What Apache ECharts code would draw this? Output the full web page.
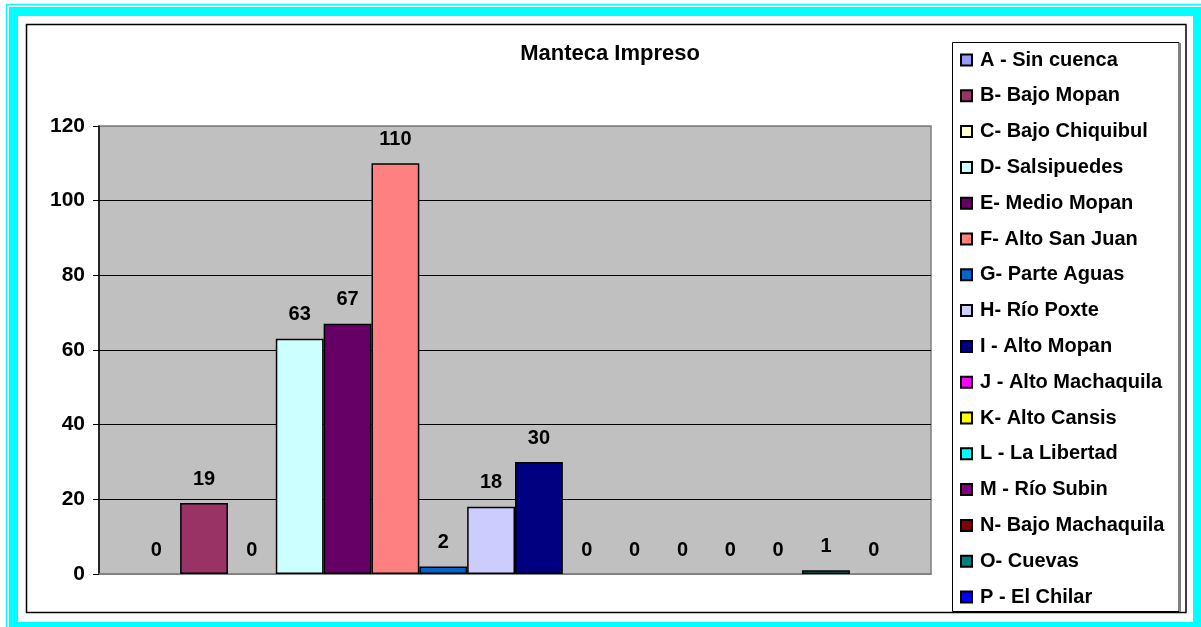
<!DOCTYPE html>
<html>
<head>
<meta charset="utf-8">
<script src="https://cdn.jsdelivr.net/npm/echarts@6/dist/echarts.min.js"></script>
<style>
  html, body { margin: 0; padding: 0; background: #fff; }
  #chart { width: 1201px; height: 627px; }
</style>
</head>
<body>
<div id="chart"></div>
<script>
// chart data
var titleText = "Manteca Impreso";
var categories = ["Manteca Impreso"];
var seriesNames = [
  "A - Sin cuenca", "B- Bajo Mopan", "C- Bajo Chiquibul", "D- Salsipuedes",
  "E- Medio Mopan", "F- Alto San Juan", "G- Parte Aguas", "H- Río Poxte",
  "I - Alto Mopan", "J - Alto Machaquila", "K- Alto Cansis", "L - La Libertad",
  "M - Río Subin", "N- Bajo Machaquila", "O- Cuevas", "P - El Chilar"
];
var seriesValues = [0, 19, 0, 63, 67, 110, 2, 18, 30, 0, 0, 0, 0, 0, 1, 0];
var seriesColors = [
  "#9999FF", "#993366", "#FFFFCC", "#CCFFFF", "#660066", "#FF8080", "#0066CC", "#CCCCFF",
  "#000080", "#FF00FF", "#FFFF00", "#00FFFF", "#800080", "#800000", "#008080", "#0000FF"
];
var yTicks = [0, 20, 40, 60, 80, 100, 120];

var font = "'Liberation Sans', Arial, sans-serif";

var chart = echarts.init(document.getElementById("chart"));

var series = seriesNames.map(function (name, i) {
  return {
    name: name,
    type: "bar",
    barGap: "0%",
    barCategoryGap: "8%",
    itemStyle: { color: seriesColors[i], borderColor: "#000", borderWidth: 1.5 },
    label: {
      show: true,
      position: "top",
      distance: 14,
      color: "#000",
      fontFamily: font,
      fontWeight: "bold",
      fontSize: 20
    },
    data: [{
      value: seriesValues[i],
      itemStyle: { borderWidth: seriesValues[i] === 0 ? 0 : 1.5 }
    }]
  };
});

chart.setOption({
  animation: false,
  backgroundColor: "#fff",
  title: {
    text: titleText,
    left: 610,
    top: 43,
    textAlign: "center",
    padding: 0,
    textStyle: { fontFamily: font, fontWeight: "bold", fontSize: 22, color: "#000" }
  },
  grid: {
    left: 99,
    top: 126,
    right: 270,
    bottom: 53,
    show: true,
    backgroundColor: "#C0C0C0",
    borderColor: "#808080",
    borderWidth: 1.5
  },
  legend: {
    orient: "vertical",
    left: 960,
    top: 50,
    padding: 0,
    itemWidth: 11,
    itemHeight: 11,
    itemGap: 15.8,
    icon: "rect",
    data: seriesNames,
    textStyle: {
      fontFamily: font,
      fontWeight: "bold",
      fontSize: 20,
      lineHeight: 20,
      color: "#000",
      padding: [0, 0, 0, 3]
    }
  },
  xAxis: {
    type: "category",
    data: categories,
    axisLabel: { show: false },
    axisTick: { show: false },
    axisLine: { lineStyle: { color: "#808080", width: 1.5 } }
  },
  yAxis: {
    type: "value",
    min: yTicks[0],
    max: yTicks[yTicks.length - 1],
    interval: 20,
    axisLine: { show: true, lineStyle: { color: "#000", width: 1.5 } },
    axisTick: { show: true, length: 6, lineStyle: { color: "#000" } },
    axisLabel: {
      margin: 14,
      color: "#000",
      fontFamily: font,
      fontWeight: "bold",
      fontSize: 21
    },
    splitLine: {
      lineStyle: {
        color: ["#808080", "#000", "#000", "#000", "#000", "#000", "#808080"],
        width: 1
      }
    }
  },
  graphic: [
    // outer cyan double frame
    { type: "rect", z: 100, silent: true,
      shape: { x: 6.5, y: 4.5, width: 1210, height: 640 },
      style: { fill: null, stroke: "#00FFFF", lineWidth: 1.5 } },
    { type: "rect", z: 100, silent: true,
      shape: { x: 13.5, y: 11.5, width: 1184, height: 615 },
      style: { fill: null, stroke: "#00FFFF", lineWidth: 9 } },
    // chart area border
    { type: "rect", z: 100, silent: true,
      shape: { x: 26.5, y: 24.5, width: 1159.5, height: 588 },
      style: { fill: null, stroke: "#000", lineWidth: 1.5 } },
    // legend box
    { type: "rect", z: 100, silent: true,
      shape: { x: 952.5, y: 42.5, width: 226.5, height: 569 },
      style: { fill: null, stroke: "#000", lineWidth: 1 } },
    { type: "line", z: 100, silent: true,
      shape: { x1: 1180, y1: 43, x2: 1180, y2: 612 },
      style: { stroke: "#808080", lineWidth: 2 } }
  ],
  series: series
});
</script>
</body>
</html>
